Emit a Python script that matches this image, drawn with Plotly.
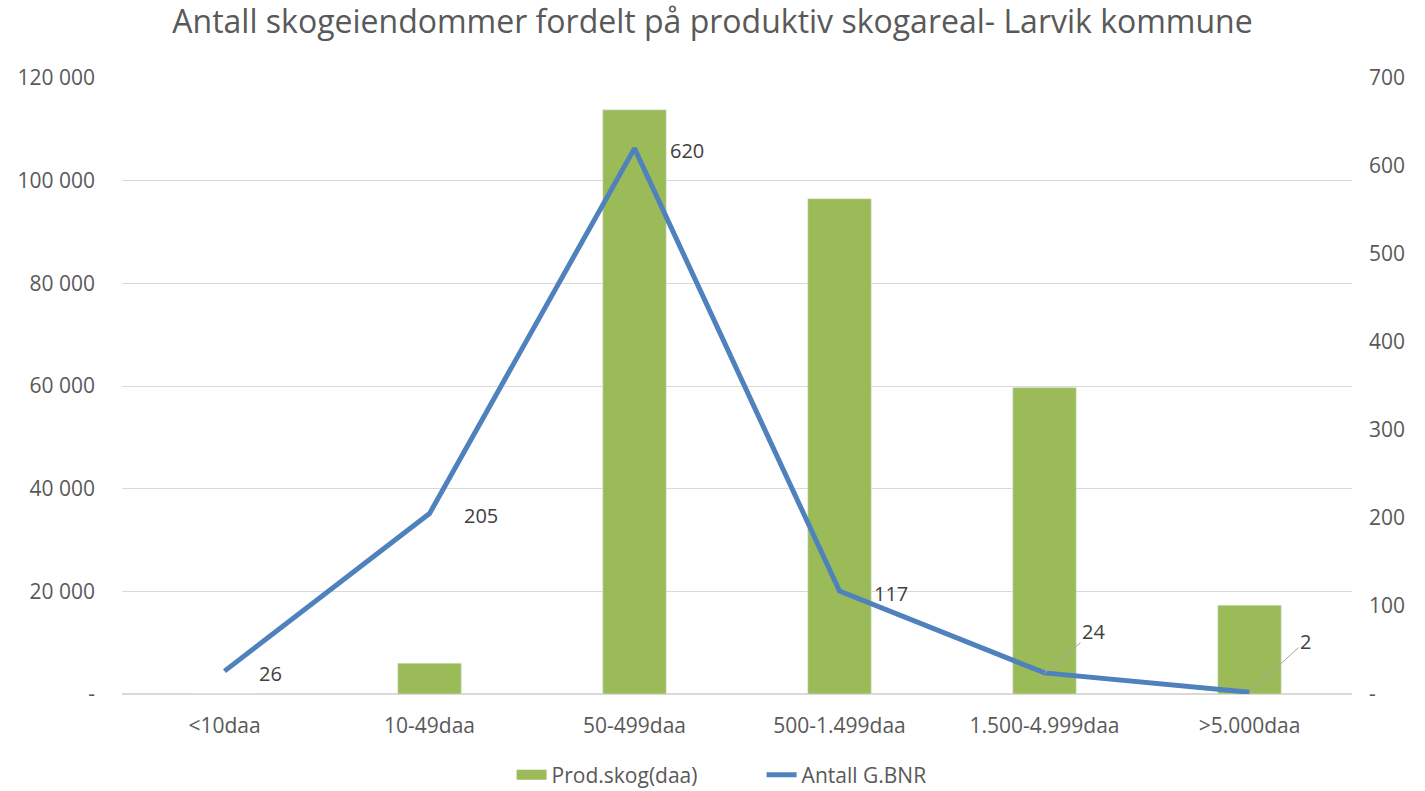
import plotly.graph_objects as go

categories = ["<10daa", "10-49daa", "50-499daa", "500-1.499daa", "1.500-4.999daa", ">5.000daa"]
prod_skog = [0, 6000, 113800, 96500, 59700, 17300]
antall_gbnr = [26, 205, 620, 117, 24, 2]

left_ticks = [0, 20000, 40000, 60000, 80000, 100000, 120000]
left_ticktext = ["-", "20 000", "40 000", "60 000", "80 000", "100 000", "120 000"]
right_ticks = [0, 100, 200, 300, 400, 500, 600, 700]
right_ticktext = ["-", "100", "200", "300", "400", "500", "600", "700"]

GREEN = "#9BBB59"
BLUE = "#4F81BD"
TXT = "#595959"
FONT = "Open Sans"

fig = go.Figure()
fig.add_trace(go.Bar(x=categories, y=prod_skog, name="Prod.skog(daa)", marker_color=GREEN,
                     yaxis="y", showlegend=False))
# legend swatch for the bar series (wide rectangle as in reference)
fig.add_trace(go.Scatter(x=[None], y=[None], name="Prod.skog(daa)", mode="lines",
                         line=dict(color=GREEN, width=14), yaxis="y"))
fig.add_trace(go.Scatter(x=categories, y=antall_gbnr, name="Antall G.BNR", mode="lines",
                         line=dict(color=BLUE, width=5), yaxis="y2"))

label_offsets = [(46, -2), (51, -2), (52, -2), (51, -2), (49, -41), (56, -51)]
leader = [False, False, False, False, True, True]
for cat, val, (dx, dy), ld in zip(categories, antall_gbnr, label_offsets, leader):
    if ld:
        fig.add_annotation(x=cat, y=val, xref="x", yref="y2", text=str(val),
                           showarrow=True, ax=dx, ay=dy, arrowhead=0, arrowwidth=1,
                           arrowcolor="#A6A6A6", standoff=0, startstandoff=0,
                           font=dict(family=FONT, size=20, color="#404040"))
    else:
        fig.add_annotation(x=cat, y=val, xref="x", yref="y2", text=str(val),
                           showarrow=False, xshift=dx, yshift=dy,
                           font=dict(family=FONT, size=20, color="#404040"))

fig.update_layout(
    width=1425, height=791,
    paper_bgcolor="white", plot_bgcolor="white",
    margin=dict(l=122, r=73, t=78, b=97, autoexpand=False),
    title=dict(text="Antall skogeiendommer fordelt på produktiv skogareal- Larvik kommune",
               x=0.5, xanchor="center", y=0.972, yanchor="middle",
               font=dict(family=FONT, size=32, color=TXT)),
    font=dict(family=FONT, size=20, color=TXT),
    bargap=0.69,
    showlegend=True,
    legend=dict(orientation="h", x=0.52, xanchor="center", y=0.02, yanchor="middle",
                yref="container", entrywidth=205,
                font=dict(family=FONT, size=21, color=TXT)),
    xaxis=dict(showgrid=False, showline=False, ticks="", automargin=False,
               ticklabelstandoff=17, tickfont=dict(size=21, color=TXT)),
    yaxis=dict(range=[0, 120000], tickvals=left_ticks, ticktext=left_ticktext,
               showgrid=True, gridcolor="#D9D9D9", gridwidth=1, zeroline=True,
               zerolinecolor="#D9D9D9", zerolinewidth=1.5, ticks="", ticklabelstandoff=26,
               automargin=False, tickfont=dict(size=21, color=TXT)),
    yaxis2=dict(range=[0, 700], tickvals=right_ticks, ticktext=right_ticktext,
                overlaying="y", side="right", showgrid=False, zeroline=False, ticks="",
                automargin=False, ticklabelstandoff=16, tickfont=dict(size=21, color=TXT)),
)

fig.write_html("out.html", config={"displayModeBar": False},
               post_script="document.body.style.margin='0';")
